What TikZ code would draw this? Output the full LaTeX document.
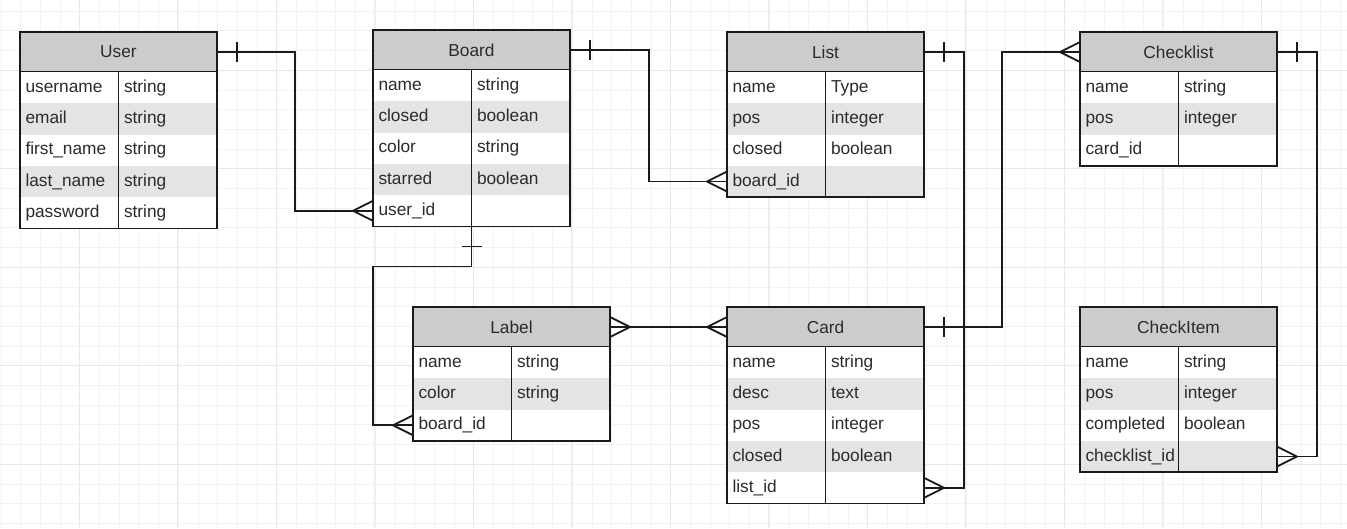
\documentclass[tikz,border=0pt]{standalone}
\usepackage{fontspec}
\setmainfont{Liberation Sans}
\usepackage{xcolor}
\usetikzlibrary{positioning,
                decorations.markings}

\definecolor{headgray}{HTML}{CCCCCC}
\definecolor{rowgray}{HTML}{E4E4E4}
\definecolor{inkgray}{HTML}{2B2B2B}
\definecolor{linecol}{HTML}{1A1A1A}

\tikzset{
  head/.style={draw=linecol, line width=1.8pt, fill=headgray, text=inkgray,
    minimum width=197pt, minimum height=40pt, inner sep=0pt, outer sep=0pt,
    anchor=north west, font=\fontsize{17.3}{20}\selectfont},
  cell/.style={minimum width=98.5pt, minimum height=31.3pt, inner xsep=5.5pt,
    inner ysep=0pt, outer sep=0pt, text height=12.5pt, text depth=3.5pt,
    anchor=north west, text=inkgray, font=\fontsize{17.3}{20}\selectfont},
  border/.style={draw=linecol, line width=1.8pt},
  link/.style={draw=linecol, line width=1.8pt},
  many start/.style={postaction={decorate, decoration={markings,
    mark=at position 0 with {\draw[linecol, line width=1.8pt]
      (20pt,0pt) -- (0pt,10pt) (20pt,0pt) -- (0pt,-10pt);}}}},
  many end/.style={postaction={decorate, decoration={markings,
    mark=at position 1 with {\draw[linecol, line width=1.8pt]
      (-20pt,0pt) -- (0pt,10pt) (-20pt,0pt) -- (0pt,-10pt);}}}},
  one end/.style={postaction={decorate, decoration={markings,
    mark=at position -20pt with {\draw[linecol, line width=1.8pt]
      (0pt,-10pt) -- (0pt,10pt);}}}},
  gridminor/.style={draw=black!5, line width=0.9pt},
  gridmajor/.style={draw=black!9, line width=0.9pt}
}

\newcommand{\entity}[4]{% id, top left corner, title, name/type rows
  \node[head] (#1) at (#2) {#3};
  \foreach \fname/\ftype [count=\n] in {#4}{% rows alternate white / gray
    \pgfmathsetmacro\rowy{(\n-1)*31.3}
    \ifodd\n\relax\def\rowfill{white}\else\def\rowfill{rowgray}\fi
    \node[cell, fill=\rowfill] (#1-\n) at ([yshift=-\rowy pt]#1.south west) {\makebox[87.5pt][l]{\fname}};
    \node[cell, fill=\rowfill, right=0pt of #1-\n] (#1-\n-t) {\makebox[87.5pt][l]{\ftype}};
    \xdef\lastrow{\n}
  }
  \draw[border] (#1.north west) rectangle (#1-\lastrow-t.south east);
  \draw[border] (#1-1.north east) -- (#1-\lastrow.south east);
}

\begin{document}
\begin{tikzpicture}[x=1pt, y=-1pt]

    \useasboundingbox[fill=white] (0,0) rectangle (1347,528);

    % background grid
    \foreach \i in {0,...,68} \draw[gridminor] (1+19.7*\i,0) -- (1+19.7*\i,528);
    \foreach \j in {0,...,26} \draw[gridminor] (0,11.2+19.7*\j) -- (1347,11.2+19.7*\j);
    \foreach \i in {0,...,13} \draw[gridmajor] (-19.2+98.5*\i,0) -- (-19.2+98.5*\i,528);
    \foreach \j in {0,...,4} \draw[gridmajor] (0,70.3+98.5*\j) -- (1347,70.3+98.5*\j);

    \entity{user}{20,32}{User}{username/string, email/string, first\_name/string,
        last\_name/string, password/string}
    \entity{board}{373,30}{Board}{name/string, closed/boolean, color/string,
        starred/boolean, user\_id/{}}
    \entity{list}{727,32}{List}{name/Type, pos/integer, closed/boolean, board\_id/{}}
    \entity{checklist}{1080,32}{Checklist}{name/string, pos/integer, card\_id/{}}
    \entity{label}{413,307}{Label}{name/string, color/string, board\_id/{}}
    \entity{card}{727,307}{Card}{name/string, desc/text, pos/integer,
        closed/boolean, list\_id/{}}
    \entity{checkitem}{1080,307}{CheckItem}{name/string, pos/integer,
        completed/boolean, checklist\_id/{}}

    % relations
    \draw[link, many start, one end] (board-5.west) -- ++(-78,0) |- (user.east);
    \draw[link, many start, one end] (list-4.west) -- ++(-78,0) |- (board.east);
    \draw[link, many start, one end] (label-3.west) -- ++(-40,0)
        |- ([yshift=-40pt]board-5.south east) -- (board-5.south east);
    \draw[link, many start, many end] (label.east) -- (card.west);
    \draw[link, many start, one end] (card-5-t.east) -- ++(40,0) |- (list.east);
    \draw[link, many start, one end] (checklist.west) -- ++(-78,0) |- (card.east);
    \draw[link, many start, one end] (checkitem-4-t.east) -- ++(40,0) |- (checklist.east);

\end{tikzpicture}
\end{document}
